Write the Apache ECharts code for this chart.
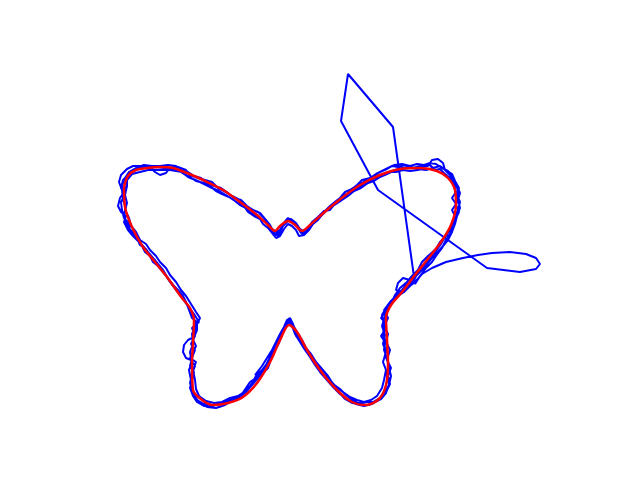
<!DOCTYPE html>
<html>
<head>
<meta charset="utf-8">
<script src="https://cdn.jsdelivr.net/npm/echarts@6/dist/echarts.min.js"></script>
<style>
  html, body { margin: 0; padding: 0; background: #fff; }
  #chart { width: 640px; height: 480px; }
</style>
</head>
<body>
<div id="chart"></div>
<script>
// points, in picture units (x right, y down)
var redPath = [
    [124,187],[128,176],[136,170],[147,168],[160,167],[173,168],[187,173],[203,180],[223,190],[240,202],
    [257,215],[268,225],[275,231],[280,226],[288,221],[295,225],[302,231],[310,225],[327,210],[343,197],
    [360,185],[380,175],[400,169],[420,168],[437,171],[448,178],[455,190],[456,205],[451,225],[441,242],
    [427,260],[415,275],[402,292],[391,305],[386,318],[387,340],[388,363],[386,385],[379,399],[366,405],
    [352,402],[337,390],[320,370],[307,350],[297,332],[289,325],[280,340],[270,362],[257,383],[243,397],
    [228,403],[213,405],[202,400],[193,390],[192,363],[193,343],[194,320],[190,308],[182,298],[167,277],
    [155,262],[143,247],[132,227],[125,207],[124,187]
];

var blueLap1 = [
    [122,190],[119,182],[121,175],[127,169],[133,166],[142,166],[150,167],[155,172],[160,175],[166,173],
    [170,168],[178,167],[186,170],[190,175],[198,178],[205,180],[212,182],[218,188],[226,192],[232,196],
    [238,199],[243,204],[250,208],[255,211],[260,213],[265,219],[270,225],[274,233],[278,236],[282,228],
    [286,220],[291,219],[296,223],[300,229],[305,232],[310,226],[316,219],[322,213],[326,210],[330,206],
    [336,201],[340,198],[345,192],[352,189],[357,185],[362,180],[370,178],[376,174],[384,170],[392,166],
    [398,167],[405,165],[413,168],[420,166],[428,166],[432,160],[438,159],[443,163],[445,170],[450,175],
    [455,183],[458,190],[458,198],[456,205],[459,212],[455,220],[450,228],[447,235],[440,242],[436,249],
    [428,256],[422,262],[418,270],[412,276],[407,282],[400,288],[395,295],[392,302],[386,308],[382,315],
    [384,325],[383,335],[387,345],[385,355],[389,365],[387,375],[389,385],[384,392],[379,400],[372,404],
    [364,406],[356,404],[348,400],[340,394],[334,388],[327,380],[320,372],[315,365],[310,357],[305,350],
    [300,342],[295,334],[292,326],[288,320],[285,327],[282,335],[279,343],[274,352],[270,360],[265,369],
    [258,378],[252,385],[246,392],[240,397],[232,401],[225,405],[216,408],[207,407],[200,403],[196,398],
    [192,390],[191,380],[189,370],[192,363],[190,352],[193,344],[192,334],[196,325],[193,316],[190,309],
    [185,302],[181,296],[176,290],[170,282],[165,274],[160,268],[155,260],[150,255],[146,249],[140,245],
    [137,238],[133,232],[128,228],[126,222],[124,214],[126,207],[123,200],[122,190]
];

var blueLap2 = [
    [127,186],[124,192],[120,198],[118,206],[121,212],[126,216],[124,222],[128,230],[133,236],[138,241],
    [142,246],[145,252],[150,256],[153,262],[158,266],[163,272],[168,278],[172,284],[178,290],[183,296],
    [186,302],[189,310],[192,318],[197,322],[197,330],[194,337],[188,340],[184,345],[183,352],[186,358],
    [191,360],[195,366],[192,374],[190,383],[193,392],[197,400],[204,404],[212,405],[220,404],[228,401],
    [235,398],[242,394],[246,388],[250,382],[256,378],[262,374],[268,368],[270,362],[263,370],[255,375],
    [262,366],[267,358],[272,350],[276,342],[280,334],[284,327],[287,320],[290,318],[293,324],[296,332],
    [300,340],[305,347],[311,354],[316,362],[322,369],[328,376],[333,384],[340,389],[346,395],[352,400],
    [358,403],[366,402],[373,402],[380,398],[386,392],[390,384],[388,376],[391,368],[387,360],[390,350],
    [386,342],[388,334],[384,326],[388,318],[384,310],[390,302],[396,296],[402,290],[407,284],[410,280],
    [403,278],[398,283],[396,290],[402,292],[408,286],[414,280],[418,272],[424,265],[430,258],[436,251],
    [441,244],[445,237],[449,231],[453,224],[455,216],[452,210],[456,204],[452,198],[456,192],[454,185],
    [450,178],[444,173],[440,169],[435,170],[430,165],[424,167],[418,170],[410,171],[403,170],[396,172],
    [388,172],[382,176],[375,178],[368,182],[362,186],[356,188],[350,193],[344,195],[340,201],[334,204],
    [328,209],[322,215],[318,220],[313,224],[309,230],[304,235],[299,236],[296,230],[292,226],[288,224],
    [284,229],[280,236],[276,238],[272,233],[268,228],[263,224],[260,219],[254,216],[248,212],[244,206],
    [238,203],[232,199],[226,195],[219,191],[212,188],[206,185],[200,182],[193,179],[188,177],[182,172],
    [176,171],[170,170],[163,170],[156,170],[148,170],[140,172],[132,174],[127,180],[127,186]
];

var blueLap3a = [
    [125,195],[127,203],[125,210],[129,218],[131,226],[136,232],[140,240],[146,244],[150,250],[156,256],
    [160,262],[166,268],[170,275],[176,282],[181,290],[186,296],[191,304],[196,312],[200,318],[197,324],
    [194,332],[193,340],[196,346],[193,352],[190,358],[196,362],[193,370],[195,380],[196,389],[199,396],
    [206,401],[214,403],[222,402],[230,398],[238,396],[244,392],[250,386],[255,380],[261,372],[266,365],
    [270,357],[274,350],[278,342],[282,334],[285,327],[289,322],[293,328],[296,336],[302,344],[308,351],
    [313,358],[319,366],[324,373],[330,380],[336,387],[343,392],[350,397],[357,400],[364,402],[371,400],
    [377,396],[382,388],[384,380],[386,370],[383,362],[386,352],[383,344],[385,335],[382,326],[385,316],
    [388,308],[392,302],[398,296],[404,292],[410,286],[415,282]
];

// the stray excursion up and to the right
var blueJump = [
    [422,274],[432,268],[446,262],[463,258],[478,255],[492,253],[510,252],[526,254],[536,258],[540,264],
    [536,269],[520,272],[487,268],[378,190],[341,121],[348,74],[393,127],[415,284]
];

var blueLap3b = [
    [420,276],[426,268],[432,262],[436,256],[442,248],[446,240],[450,234],[452,226],[454,218],[458,210],
    [460,202],[457,195],[459,188],[455,181],[452,174],[446,170],[440,166],[433,168],[426,170],[418,169],
    [410,167],[402,168],[395,170],[387,174],[380,177],[374,181],[368,183],[361,188],[354,191],[348,196],
    [342,200],[336,204],[330,208],[325,212],[319,218],[314,222],[310,227],[305,231],[301,233],[298,228],
    [294,222],[289,220],[284,225],[280,230],[276,232],[271,228],[266,222],[261,219],[257,215],[251,213],
    [246,208],[240,205],[235,201],[229,197],[222,194],[216,191],[210,186],[204,183],[196,181],[190,177],
    [184,174],[178,170],[172,169],[164,168],[156,167],[148,168],[140,168],[133,170],[128,175],[123,180],
    [121,188],[125,195]
];

var blueLap4 = [
    [125,195],[122,186],[125,178],[129,172],[136,168],[144,165],[152,166],[160,166],[168,165],[176,166],
    [182,170],[188,172],[194,176],[201,178],[208,184],[214,186],[221,188],[228,193],[234,198],[241,200],
    [247,206],[253,210],[258,212],[262,216],[266,220],[270,229],[275,235],[279,232],[283,224],[288,218],
    [293,221],[298,226],[302,234],[307,230],[312,222],[318,217],[324,211],[330,210],[334,205],[339,199],
    [346,196],[350,190],[356,186],[362,183],[368,179],[374,176],[380,172],[387,169],[394,165],[402,164],
    [410,166],[417,164],[424,165],[430,163],[436,164],[442,168],[448,171],[452,178],[457,185],[460,193],
    [458,200],[460,208],[457,216],[455,224],[452,232],[448,240],[443,246],[437,253],[432,258],[427,264],
    [422,270],[416,276],[410,282],[405,288],[400,294],[395,299],[390,305],[386,311],[381,318],[385,322],
    [385,330],[381,336],[385,342],[384,350],[387,358],[389,368],[391,376],[389,385],[386,393],[381,399],
    [375,402],[368,405],[360,404],[352,403],[345,399],[339,392],[334,385],[328,378],[323,371],[317,364],
    [312,356],[306,348],[302,340],[297,332],[293,325],[290,320],[286,324],[283,330],[280,338],[276,346],
    [272,354],[268,362],[262,370],[256,376],[252,383],[247,390],[241,394],[234,399],[227,402],[220,404],
    [212,406],[204,406],[197,402],[193,396],[190,388],[192,380],[194,372],[190,366],[192,358],[195,350],
    [191,344],[195,336],[192,328],[199,322],[194,314],[188,306],[184,300],[179,294],[174,286],[169,280],
    [163,270],[158,264],[153,258],[148,252],[143,246],[139,242],[135,235],[130,230],[128,222],[124,218],
    [122,210],[121,202],[125,195]
];

var bluePath = blueLap1.concat(blueLap2, blueLap3a, blueJump, blueLap3b, blueLap4);

var chart = echarts.init(document.getElementById('chart'));
var option = {
    animation: false,
    backgroundColor: '#ffffff',
    grid: { left: 0, right: 0, top: 0, bottom: 0 },
    xAxis: { type: 'value', min: 0, max: 640, show: false },
    yAxis: { type: 'value', min: 0, max: 480, inverse: true, show: false },
    series: [
        {
            name: 'measured',
            type: 'line',
            data: bluePath,
            showSymbol: false,
            lineStyle: { color: '#0000ff', width: 2 },
            z: 2
        },
        {
            name: 'smooth',
            type: 'line',
            data: redPath,
            smooth: 0.3,
            showSymbol: false,
            lineStyle: { color: '#ff0000', width: 2.5 },
            z: 3
        }
    ]
};
chart.setOption(option);
</script>
</body>
</html>
